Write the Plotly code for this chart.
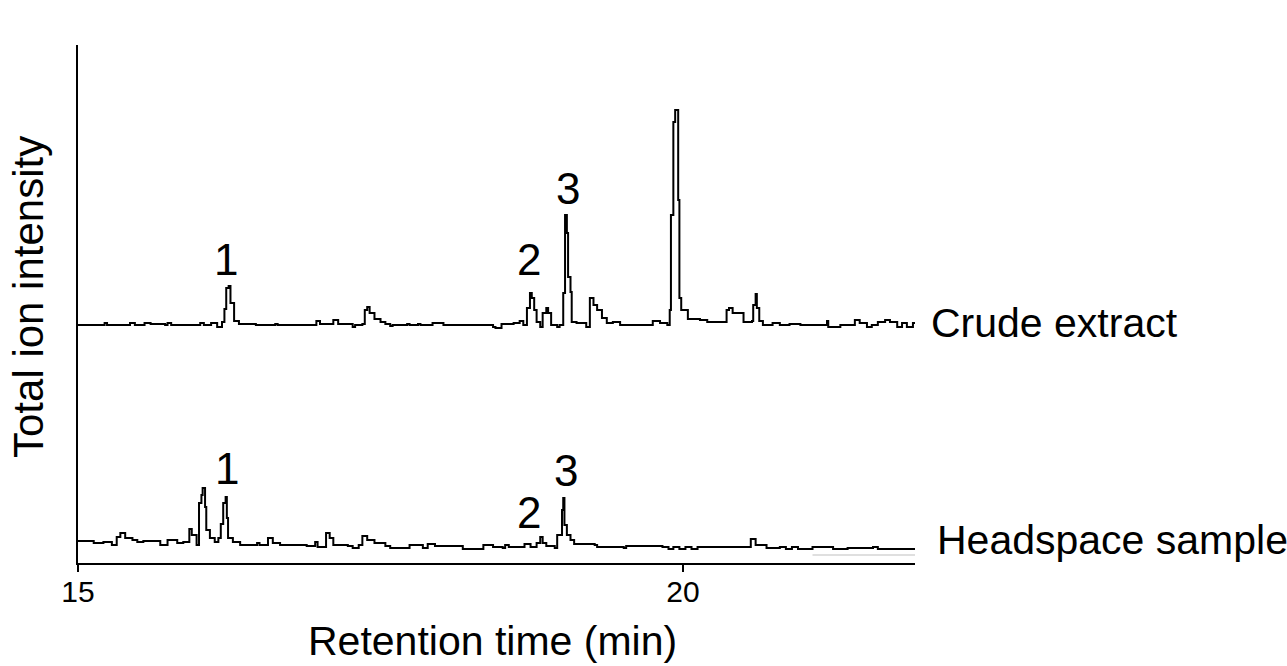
import plotly.graph_objects as go

# ---- Data ----
# Crude extract: retention time (min) and relative intensity above its own baseline
crude_time = [15.00, 15.20, 15.22, 15.24, 15.41, 15.43, 15.47, 15.53, 15.55, 15.60, 15.72, 15.74, 15.77,
              15.99, 16.01, 16.04, 16.08, 16.10, 16.15, 16.19, 16.21, 16.225, 16.245, 16.26, 16.29, 16.33,
              16.45, 16.47, 16.63, 16.65, 16.95, 16.97, 17.00, 17.03, 17.09, 17.11, 17.15, 17.27, 17.29,
              17.35, 17.37, 17.39, 17.41, 17.45, 17.50, 17.54, 17.58, 17.60, 17.72, 17.74, 17.81, 17.83,
              17.93, 18.02, 18.20, 18.43, 18.45, 18.50, 18.60, 18.65, 18.68, 18.71, 18.735, 18.75, 18.77,
              18.79, 18.82, 18.84, 18.87, 18.885, 18.91, 18.96, 18.98, 19.01, 19.025, 19.04, 19.05, 19.07,
              19.08, 19.12, 19.20, 19.23, 19.26, 19.29, 19.33, 19.37, 19.42, 19.48, 19.73, 19.75, 19.81,
              19.87, 19.89, 19.90, 19.92, 19.935, 19.95, 19.96, 19.97, 19.985, 20.04, 20.14, 20.20, 20.33,
              20.36, 20.38, 20.41, 20.50, 20.57, 20.58, 20.60, 20.61, 20.63, 20.66, 20.74, 20.80, 20.88,
              20.97, 21.17, 21.19, 21.20, 21.30, 21.40, 21.42, 21.46, 21.52, 21.56, 21.61, 21.67, 21.71,
              21.77, 21.81, 21.85, 21.90, 21.92]
crude_int = [0, 0, 2, 0, 0, 2, 0, 0, 2, 1, 0, 2, 0,
             0, 2, 0, 0, 2, -2, 3, 16, 37, 39, 22, 4, 1,
             1, 0, 1, 0, 0, 4, 1, 1, 1, 5, 1, -2, 0,
             1, 15, 18, 12, 6, 3, 1, -1, 0, 1, 0, 1, 0,
             2, 0, 0, -2, -3, 1, 2, 4, 0, 17, 32, 27, 15,
             3, -2, 12, 17, 12, 0, -2, 0, 32, 110, 92, 48, 33,
             3, 2, -2, 27, 20, 15, 7, 2, 3, 0, 0, 4, 2,
             0, 15, 110, 203, 215, 215, 125, 27, 15, 6, 5, 3, 3,
             15, 17, 12, 3, 4, 20, 31, 17, 4, 0, 2, 0, 1,
             0, 0, 4, -2, 0, 0, 5, 2, -2, 0, 3, 5, 3,
             -2, 2, -2, 2, 2]

# Headspace sample: retention time (min) and intensity
head_time = [15.00, 15.02, 15.13, 15.21, 15.28, 15.32, 15.35, 15.39, 15.45, 15.49, 15.54, 15.61, 15.68,
             15.74, 15.82, 15.87, 15.92, 15.94, 15.98, 16.00, 16.02, 16.03, 16.05, 16.06, 16.09, 16.13,
             16.16, 16.18, 16.20, 16.22, 16.23, 16.24, 16.28, 16.34, 16.48, 16.50, 16.57, 16.61, 16.67,
             16.89, 16.96, 16.98, 17.05, 17.08, 17.11, 17.23, 17.27, 17.32, 17.35, 17.39, 17.45, 17.54,
             17.58, 17.74, 17.85, 17.89, 17.95, 18.18, 18.35, 18.43, 18.51, 18.53, 18.56, 18.64, 18.69,
             18.74, 18.79, 18.82, 18.84, 18.87, 18.94, 18.96, 19.00, 19.01, 19.02, 19.03, 19.04, 19.07,
             19.10, 19.27, 19.29, 19.51, 19.53, 19.83, 19.88, 19.92, 19.97, 20.02, 20.07, 20.12, 20.28,
             20.53, 20.56, 20.60, 20.69, 20.80, 20.85, 20.90, 20.95, 21.07, 21.24, 21.36, 21.53, 21.57,
             21.61, 21.92]
head_int = [22, 22, 20, 21, 18, 26, 30, 25, 23, 21, 22, 22, 18,
            23, 20, 21, 34, 28, 18, 60, 68, 75, 56, 33, 25, 21,
            25, 39, 60, 66, 45, 25, 21, 18, 20, 18, 25, 20, 18,
            17, 21, 16, 30, 25, 18, 17, 15, 18, 27, 23, 20, 17,
            15, 18, 15, 19, 17, 14, 18, 16, 15, 18, 16, 16, 19,
            16, 20, 26, 20, 17, 15, 28, 53, 65, 38, 38, 28, 23,
            19, 18, 16, 15, 17, 16, 14, 16, 14, 16, 14, 16, 16,
            16, 24, 18, 15, 16, 14, 16, 14, 16, 14, 15, 15, 16,
            14, 14]

# Faint grey reference line at the right end of the headspace trace
faint_time = [21.07, 21.92]
faint_int = [8, 8]

crude_offset = 238  # vertical stacking offset of the crude-extract trace

# Peak labels
crude_peak_time = [16.22, 18.73, 19.05]
crude_peak_pos = [304, 304, 375]
head_peak_time = [16.23, 18.73, 19.03]
head_peak_pos = [95, 51, 93]
peak_text = ["1", "2", "3"]

x_ticks = [15, 20]
x_range = [15, 21.917]
y_range = [0, 518]

FONT = "Liberation Sans, Arial, Helvetica, sans-serif"

fig = go.Figure()
fig.add_trace(go.Scatter(x=faint_time, y=faint_int, mode="lines",
                         line=dict(color="#d4d4d4", width=1.5), hoverinfo="skip", showlegend=False))
fig.add_trace(go.Scatter(x=crude_time, y=[v + crude_offset for v in crude_int], mode="lines",
                         line=dict(color="black", width=2, shape="hv"), hoverinfo="skip", showlegend=False))
fig.add_trace(go.Scatter(x=head_time, y=head_int, mode="lines",
                         line=dict(color="black", width=2, shape="hv"), hoverinfo="skip", showlegend=False))

ann = []
for t, p, s in zip(crude_peak_time, crude_peak_pos, peak_text):
    ann.append(dict(x=t, y=p, xref="x", yref="y", text=s, showarrow=False,
                    font=dict(size=44, color="black", family=FONT)))
for t, p, s in zip(head_peak_time, head_peak_pos, peak_text):
    ann.append(dict(x=t, y=p, xref="x", yref="y", text=s, showarrow=False,
                    font=dict(size=44, color="black", family=FONT)))

ann.append(dict(x=1.0167, y=240, xref="paper", yref="y", text="Crude extract", showarrow=False,
                xanchor="left", yanchor="middle", font=dict(size=41, color="black", family=FONT)))
ann.append(dict(x=1.0239, y=23, xref="paper", yref="y", text="Headspace sample", showarrow=False,
                xanchor="left", yanchor="middle", font=dict(size=41, color="black", family=FONT)))
ann.append(dict(x=(492 - 78) / 837, y=-(641 - 563) / 518, xref="paper", yref="paper",
                text="Retention time (min)", showarrow=False, xanchor="center", yanchor="middle",
                font=dict(size=41, color="black", family=FONT)))
ann.append(dict(x=-(78 - 28) / 837, y=(563 - 297) / 518, xref="paper", yref="paper",
                text="Total ion intensity", showarrow=False, textangle=-90, xanchor="center",
                yanchor="middle", font=dict(size=42, color="black", family=FONT)))

fig.update_layout(
    width=1287, height=666,
    margin=dict(l=78, r=372, t=45, b=103),
    paper_bgcolor="white", plot_bgcolor="white",
    annotations=ann,
    xaxis=dict(range=x_range, tickvals=x_ticks, ticktext=[str(v) for v in x_ticks],
               showline=True, linecolor="black", linewidth=2, ticks="outside", ticklen=7,
               tickwidth=2, tickcolor="black", showgrid=False, zeroline=False,
               ticklabelstandoff=-6,
               tickfont=dict(size=30, color="black", family=FONT)),
    yaxis=dict(range=y_range, showline=True, linecolor="black", linewidth=2,
               showticklabels=False, ticks="", showgrid=False, zeroline=False),
)

fig.write_html("out.html", config={"displayModeBar": False},
               post_script="document.body.style.margin='0';document.body.style.overflow='hidden';")
